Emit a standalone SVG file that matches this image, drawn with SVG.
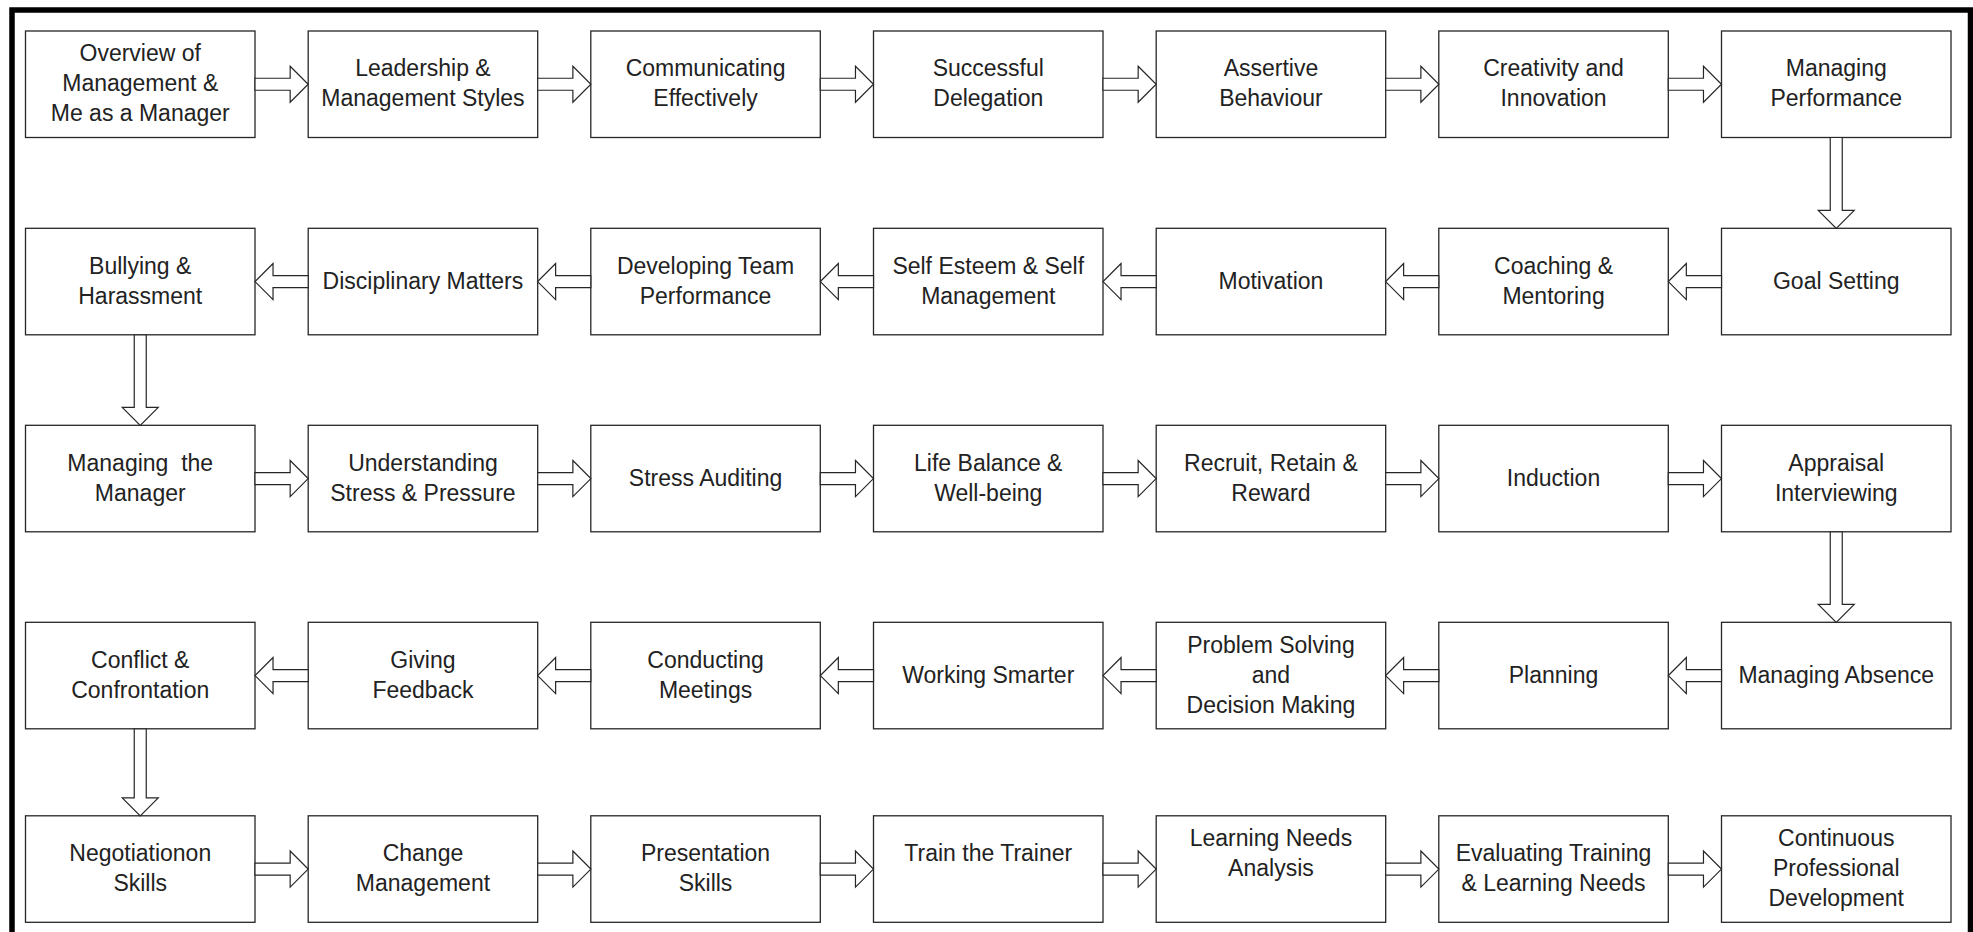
<svg xmlns="http://www.w3.org/2000/svg" xmlns:xlink="http://www.w3.org/1999/xlink" width="1973" height="932" viewBox="0 0 1973 932">
  <style>
    .box { fill: #ffffff; stroke: #262626; stroke-width: 1.3; }
    .lbl { font-family: "Liberation Sans", Arial, sans-serif; font-size: 23px; fill: #222222; text-anchor: middle; }
    .arr { fill: #ffffff; stroke: #262626; stroke-width: 1.2; stroke-linejoin: miter; }
    .frame { fill: none; stroke: #000000; stroke-width: 5.5; }
  </style>
  <defs>
    <!-- block arrow spanning the 53.17px gap between neighbouring boxes -->
    <path id="harrow" class="arr" d="M0,-6 H35.17 V-18 L53.17,0 L35.17,18 V6 H0 Z"/>
  </defs>

  <rect x="0" y="0" width="1973" height="932" fill="#ffffff"/>
  <rect class="frame" x="12" y="10" width="1958.5" height="940"/>

  <!-- Row 1 -->
  <g id="overview">
    <rect class="box" x="25.5" y="31" width="229.5" height="106.5"/>
    <text class="lbl"><tspan x="140.25" y="61.25">Overview of</tspan><tspan x="140.25" y="91.25">Management &amp;</tspan><tspan x="140.25" y="121.25">Me as a Manager</tspan></text>
  </g>
  <g id="leadership">
    <rect class="box" x="308.2" y="31" width="229.5" height="106.5"/>
    <text class="lbl"><tspan x="422.95" y="76.25">Leadership &amp;</tspan><tspan x="422.95" y="106.25">Management Styles</tspan></text>
  </g>
  <g id="communicating">
    <rect class="box" x="590.8" y="31" width="229.5" height="106.5"/>
    <text class="lbl"><tspan x="705.55" y="76.25">Communicating</tspan><tspan x="705.55" y="106.25">Effectively</tspan></text>
  </g>
  <g id="delegation">
    <rect class="box" x="873.5" y="31" width="229.5" height="106.5"/>
    <text class="lbl"><tspan x="988.25" y="76.25">Successful</tspan><tspan x="988.25" y="106.25">Delegation</tspan></text>
  </g>
  <g id="assertive">
    <rect class="box" x="1156.2" y="31" width="229.5" height="106.5"/>
    <text class="lbl"><tspan x="1270.95" y="76.25">Assertive</tspan><tspan x="1270.95" y="106.25">Behaviour</tspan></text>
  </g>
  <g id="creativity">
    <rect class="box" x="1438.8" y="31" width="229.5" height="106.5"/>
    <text class="lbl"><tspan x="1553.55" y="76.25">Creativity and</tspan><tspan x="1553.55" y="106.25">Innovation</tspan></text>
  </g>
  <g id="managing-performance">
    <rect class="box" x="1721.5" y="31" width="229.5" height="106.5"/>
    <text class="lbl"><tspan x="1836.25" y="76.25">Managing</tspan><tspan x="1836.25" y="106.25">Performance</tspan></text>
  </g>

  <!-- Row 2 -->
  <g id="bullying">
    <rect class="box" x="25.5" y="228.3" width="229.5" height="106.5"/>
    <text class="lbl"><tspan x="140.25" y="273.55">Bullying &amp;</tspan><tspan x="140.25" y="303.55">Harassment</tspan></text>
  </g>
  <g id="disciplinary">
    <rect class="box" x="308.2" y="228.3" width="229.5" height="106.5"/>
    <text class="lbl" x="422.95" y="288.55">Disciplinary Matters</text>
  </g>
  <g id="team-performance">
    <rect class="box" x="590.8" y="228.3" width="229.5" height="106.5"/>
    <text class="lbl"><tspan x="705.55" y="273.55">Developing Team</tspan><tspan x="705.55" y="303.55">Performance</tspan></text>
  </g>
  <g id="self-esteem">
    <rect class="box" x="873.5" y="228.3" width="229.5" height="106.5"/>
    <text class="lbl"><tspan x="988.25" y="273.55">Self Esteem &amp; Self</tspan><tspan x="988.25" y="303.55">Management</tspan></text>
  </g>
  <g id="motivation">
    <rect class="box" x="1156.2" y="228.3" width="229.5" height="106.5"/>
    <text class="lbl" x="1270.95" y="288.55">Motivation</text>
  </g>
  <g id="coaching">
    <rect class="box" x="1438.8" y="228.3" width="229.5" height="106.5"/>
    <text class="lbl"><tspan x="1553.55" y="273.55">Coaching &amp;</tspan><tspan x="1553.55" y="303.55">Mentoring</tspan></text>
  </g>
  <g id="goal-setting">
    <rect class="box" x="1721.5" y="228.3" width="229.5" height="106.5"/>
    <text class="lbl" x="1836.25" y="288.55">Goal Setting</text>
  </g>

  <!-- Row 3 -->
  <g id="managing-manager">
    <rect class="box" x="25.5" y="425.3" width="229.5" height="106.5"/>
    <text class="lbl" xml:space="preserve"><tspan x="140.25" y="470.55">Managing  the</tspan><tspan x="140.25" y="500.55">Manager</tspan></text>
  </g>
  <g id="stress-pressure">
    <rect class="box" x="308.2" y="425.3" width="229.5" height="106.5"/>
    <text class="lbl"><tspan x="422.95" y="470.55">Understanding</tspan><tspan x="422.95" y="500.55">Stress &amp; Pressure</tspan></text>
  </g>
  <g id="stress-auditing">
    <rect class="box" x="590.8" y="425.3" width="229.5" height="106.5"/>
    <text class="lbl" x="705.55" y="485.55">Stress Auditing</text>
  </g>
  <g id="life-balance">
    <rect class="box" x="873.5" y="425.3" width="229.5" height="106.5"/>
    <text class="lbl"><tspan x="988.25" y="470.55">Life Balance &amp;</tspan><tspan x="988.25" y="500.55">Well-being</tspan></text>
  </g>
  <g id="recruit">
    <rect class="box" x="1156.2" y="425.3" width="229.5" height="106.5"/>
    <text class="lbl"><tspan x="1270.95" y="470.55">Recruit, Retain &amp;</tspan><tspan x="1270.95" y="500.55">Reward</tspan></text>
  </g>
  <g id="induction">
    <rect class="box" x="1438.8" y="425.3" width="229.5" height="106.5"/>
    <text class="lbl" x="1553.55" y="485.55">Induction</text>
  </g>
  <g id="appraisal">
    <rect class="box" x="1721.5" y="425.3" width="229.5" height="106.5"/>
    <text class="lbl"><tspan x="1836.25" y="470.55">Appraisal</tspan><tspan x="1836.25" y="500.55">Interviewing</tspan></text>
  </g>

  <!-- Row 4 -->
  <g id="conflict">
    <rect class="box" x="25.5" y="622.3" width="229.5" height="106.5"/>
    <text class="lbl"><tspan x="140.25" y="667.55">Conflict &amp;</tspan><tspan x="140.25" y="697.55">Confrontation</tspan></text>
  </g>
  <g id="feedback">
    <rect class="box" x="308.2" y="622.3" width="229.5" height="106.5"/>
    <text class="lbl"><tspan x="422.95" y="667.55">Giving</tspan><tspan x="422.95" y="697.55">Feedback</tspan></text>
  </g>
  <g id="meetings">
    <rect class="box" x="590.8" y="622.3" width="229.5" height="106.5"/>
    <text class="lbl"><tspan x="705.55" y="667.55">Conducting</tspan><tspan x="705.55" y="697.55">Meetings</tspan></text>
  </g>
  <g id="working-smarter">
    <rect class="box" x="873.5" y="622.3" width="229.5" height="106.5"/>
    <text class="lbl" x="988.25" y="682.55">Working Smarter</text>
  </g>
  <g id="problem-solving">
    <rect class="box" x="1156.2" y="622.3" width="229.5" height="106.5"/>
    <text class="lbl"><tspan x="1270.95" y="652.55">Problem Solving</tspan><tspan x="1270.95" y="682.55">and</tspan><tspan x="1270.95" y="712.55">Decision Making</tspan></text>
  </g>
  <g id="planning">
    <rect class="box" x="1438.8" y="622.3" width="229.5" height="106.5"/>
    <text class="lbl" x="1553.55" y="682.55">Planning</text>
  </g>
  <g id="absence">
    <rect class="box" x="1721.5" y="622.3" width="229.5" height="106.5"/>
    <text class="lbl" x="1836.25" y="682.55">Managing Absence</text>
  </g>

  <!-- Row 5 -->
  <g id="negotiation">
    <rect class="box" x="25.5" y="815.8" width="229.5" height="106.5"/>
    <text class="lbl"><tspan x="140.25" y="861.05">Negotiationon</tspan><tspan x="140.25" y="891.05">Skills</tspan></text>
  </g>
  <g id="change">
    <rect class="box" x="308.2" y="815.8" width="229.5" height="106.5"/>
    <text class="lbl"><tspan x="422.95" y="861.05">Change</tspan><tspan x="422.95" y="891.05">Management</tspan></text>
  </g>
  <g id="presentation">
    <rect class="box" x="590.8" y="815.8" width="229.5" height="106.5"/>
    <text class="lbl"><tspan x="705.55" y="861.05">Presentation</tspan><tspan x="705.55" y="891.05">Skills</tspan></text>
  </g>
  <g id="train-trainer">
    <rect class="box" x="873.5" y="815.8" width="229.5" height="106.5"/>
    <text class="lbl" x="988.25" y="861.05">Train the Trainer</text>
  </g>
  <g id="learning-needs">
    <rect class="box" x="1156.2" y="815.8" width="229.5" height="106.5"/>
    <text class="lbl"><tspan x="1270.95" y="846.05">Learning Needs</tspan><tspan x="1270.95" y="876.05">Analysis</tspan></text>
  </g>
  <g id="evaluating">
    <rect class="box" x="1438.8" y="815.8" width="229.5" height="106.5"/>
    <text class="lbl"><tspan x="1553.55" y="861.05">Evaluating Training</tspan><tspan x="1553.55" y="891.05">&amp; Learning Needs</tspan></text>
  </g>
  <g id="cpd">
    <rect class="box" x="1721.5" y="815.8" width="229.5" height="106.5"/>
    <text class="lbl"><tspan x="1836.25" y="846.05">Continuous</tspan><tspan x="1836.25" y="876.05">Professional</tspan><tspan x="1836.25" y="906.05">Development</tspan></text>
  </g>

  <!-- Connectors -->
  <g id="connectors">
    <!-- row 1, left to right -->
    <use xlink:href="#harrow" href="#harrow" transform="translate(255,84.25)"/>
    <use xlink:href="#harrow" href="#harrow" transform="translate(537.7,84.25)"/>
    <use xlink:href="#harrow" href="#harrow" transform="translate(820.3,84.25)"/>
    <use xlink:href="#harrow" href="#harrow" transform="translate(1103,84.25)"/>
    <use xlink:href="#harrow" href="#harrow" transform="translate(1385.7,84.25)"/>
    <use xlink:href="#harrow" href="#harrow" transform="translate(1668.3,84.25)"/>
    <!-- down to row 2 -->
    <path class="arr" d="M1830.25,137.5 V210.3 H1818.25 L1836.25,228.3 L1854.25,210.3 H1842.25 V137.5 Z"/>
    <!-- row 2, right to left -->
    <use xlink:href="#harrow" href="#harrow" transform="translate(1721.5,281.55) scale(-1,1)"/>
    <use xlink:href="#harrow" href="#harrow" transform="translate(1438.8,281.55) scale(-1,1)"/>
    <use xlink:href="#harrow" href="#harrow" transform="translate(1156.2,281.55) scale(-1,1)"/>
    <use xlink:href="#harrow" href="#harrow" transform="translate(873.5,281.55) scale(-1,1)"/>
    <use xlink:href="#harrow" href="#harrow" transform="translate(590.8,281.55) scale(-1,1)"/>
    <use xlink:href="#harrow" href="#harrow" transform="translate(308.2,281.55) scale(-1,1)"/>
    <!-- down to row 3 -->
    <path class="arr" d="M134.25,334.8 V407.3 H122.25 L140.25,425.3 L158.25,407.3 H146.25 V334.8 Z"/>
    <!-- row 3, left to right -->
    <use xlink:href="#harrow" href="#harrow" transform="translate(255,478.55)"/>
    <use xlink:href="#harrow" href="#harrow" transform="translate(537.7,478.55)"/>
    <use xlink:href="#harrow" href="#harrow" transform="translate(820.3,478.55)"/>
    <use xlink:href="#harrow" href="#harrow" transform="translate(1103,478.55)"/>
    <use xlink:href="#harrow" href="#harrow" transform="translate(1385.7,478.55)"/>
    <use xlink:href="#harrow" href="#harrow" transform="translate(1668.3,478.55)"/>
    <!-- down to row 4 -->
    <path class="arr" d="M1830.25,531.8 V604.3 H1818.25 L1836.25,622.3 L1854.25,604.3 H1842.25 V531.8 Z"/>
    <!-- row 4, right to left -->
    <use xlink:href="#harrow" href="#harrow" transform="translate(1721.5,675.55) scale(-1,1)"/>
    <use xlink:href="#harrow" href="#harrow" transform="translate(1438.8,675.55) scale(-1,1)"/>
    <use xlink:href="#harrow" href="#harrow" transform="translate(1156.2,675.55) scale(-1,1)"/>
    <use xlink:href="#harrow" href="#harrow" transform="translate(873.5,675.55) scale(-1,1)"/>
    <use xlink:href="#harrow" href="#harrow" transform="translate(590.8,675.55) scale(-1,1)"/>
    <use xlink:href="#harrow" href="#harrow" transform="translate(308.2,675.55) scale(-1,1)"/>
    <!-- down to row 5 -->
    <path class="arr" d="M134.25,728.8 V797.8 H122.25 L140.25,815.8 L158.25,797.8 H146.25 V728.8 Z"/>
    <!-- row 5, left to right -->
    <use xlink:href="#harrow" href="#harrow" transform="translate(255,869.05)"/>
    <use xlink:href="#harrow" href="#harrow" transform="translate(537.7,869.05)"/>
    <use xlink:href="#harrow" href="#harrow" transform="translate(820.3,869.05)"/>
    <use xlink:href="#harrow" href="#harrow" transform="translate(1103,869.05)"/>
    <use xlink:href="#harrow" href="#harrow" transform="translate(1385.7,869.05)"/>
    <use xlink:href="#harrow" href="#harrow" transform="translate(1668.3,869.05)"/>
  </g>
</svg>
